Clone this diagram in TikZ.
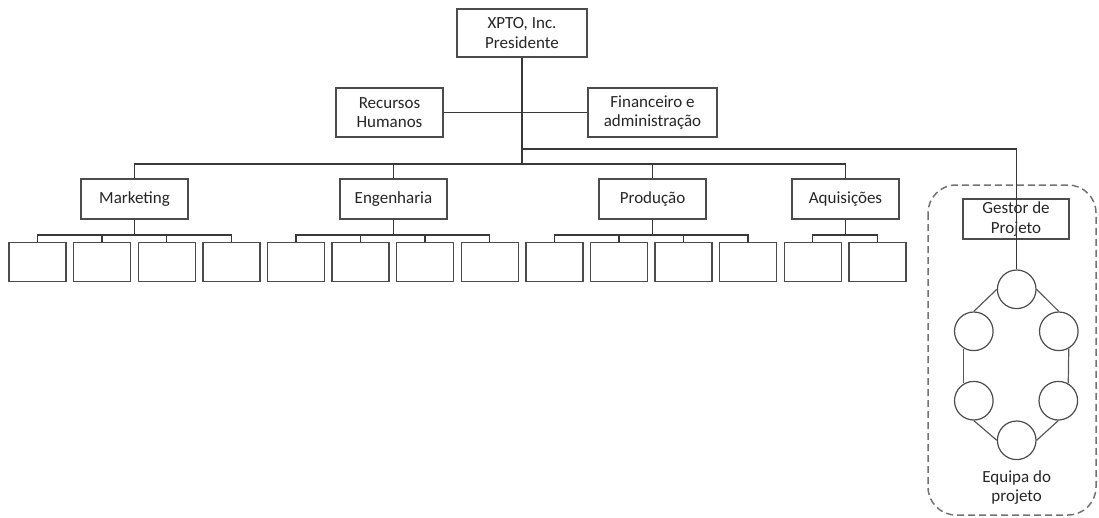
\documentclass[tikz,border=0pt]{standalone}
\usepackage{fontspec}
\setmainfont{Carlito}
\begin{document}
\begin{tikzpicture}[x=1pt,y=-1pt,
  every node/.style={font=\fontsize{17}{19.5}\selectfont, text=black!85},
  unit/.style={draw=black!70, line width=1.4pt, fill=white, inner sep=0pt, align=center},
  dept/.style={unit, minimum width=107pt, minimum height=40pt},
  leaf/.style={unit, minimum width=57pt, minimum height=39pt},
  member/.style={circle, draw=black!70, line width=1.2pt, inner sep=0pt, minimum size=38.6pt},
  wire/.style={draw=black!78, line width=1.4pt},
  teamwire/.style={draw=black!65, line width=1.2pt},
  teamframe/.style={draw=black!55, line width=1.5pt, dash pattern=on 7pt off 4pt, rounded corners=28pt}]
\useasboundingbox (0,0) rectangle (1099,517);

% helper rows
\coordinate (mainbus) at (0,164);
\coordinate (pmbus) at (0,149);
\coordinate (subbus) at (0,235);

% project team frame
\draw[teamframe] (928,185) rectangle (1096,515);

% top management
\node[unit, minimum width=130pt, minimum height=48pt] (pres) at (522,33) {XPTO, Inc.\\Presidente};
\node[unit, minimum width=107pt, minimum height=49pt] (rh) at (389.5,112.5) {Recursos\\Humanos};
\node[unit, minimum width=129pt, minimum height=49pt] (fin) at (652.5,112.5) {Financeiro e\\administração};

% departments
\node[dept] (mkt) at (134.5,199) {Marketing};
\node[dept] (eng) at (393.5,199) {Engenharia};
\node[dept] (prod) at (652.5,199) {Produção};
\node[dept] (aq) at (845.5,199) {Aquisições};

% department staff
\foreach \i in {1,...,14}
  \node[leaf] (s\i) at ({37.5+64.6*(\i-1)},262) {};

% project manager and team
\node[unit, minimum width=106pt, minimum height=40pt, fill=none] (pm) at (1016,219) {Gestor de\\Projeto};
\node[member] (t1) at (1016.7,289.3) {};
\node[member] (t2) at (973.8,331.3) {};
\node[member] (t3) at (1058.8,331.3) {};
\node[member] (t4) at (973.8,400.7) {};
\node[member] (t5) at (1058.3,400.7) {};
\node[member] (t6) at (1016.7,440.3) {};
\node[align=center] (team) at (1016.7,487.5) {Equipa do\\[-1pt]projeto};

% reporting lines
\draw[wire] (pres.south) -- (pres.south |- mainbus);
\draw[wire] (rh.east) -- (fin.west);
\foreach \d in {mkt,eng,prod,aq}
  \draw[wire] (pres.south |- mainbus) -| (\d.north);
\draw[wire] (pres.south |- pmbus) -| (t1.north);

\foreach \d/\a/\b in {mkt/1/4, eng/5/8, prod/9/12, aq/13/14}
  \foreach \k in {\a,...,\b}
    \draw[wire] (\d.south) -- (\d.south |- subbus) -| (s\k.north);

% team ring
\draw[teamwire] (t1.west) -- (t2.north);
\draw[teamwire] (t1.east) -- (t3.north);
\draw[teamwire] (t2.240) -- (t4.120);
\draw[teamwire] (t3.300) -- (t5.60);
\draw[teamwire] (t4.south) -- (t6.west);
\draw[teamwire] (t5.south) -- (t6.east);
\end{tikzpicture}
\end{document}
